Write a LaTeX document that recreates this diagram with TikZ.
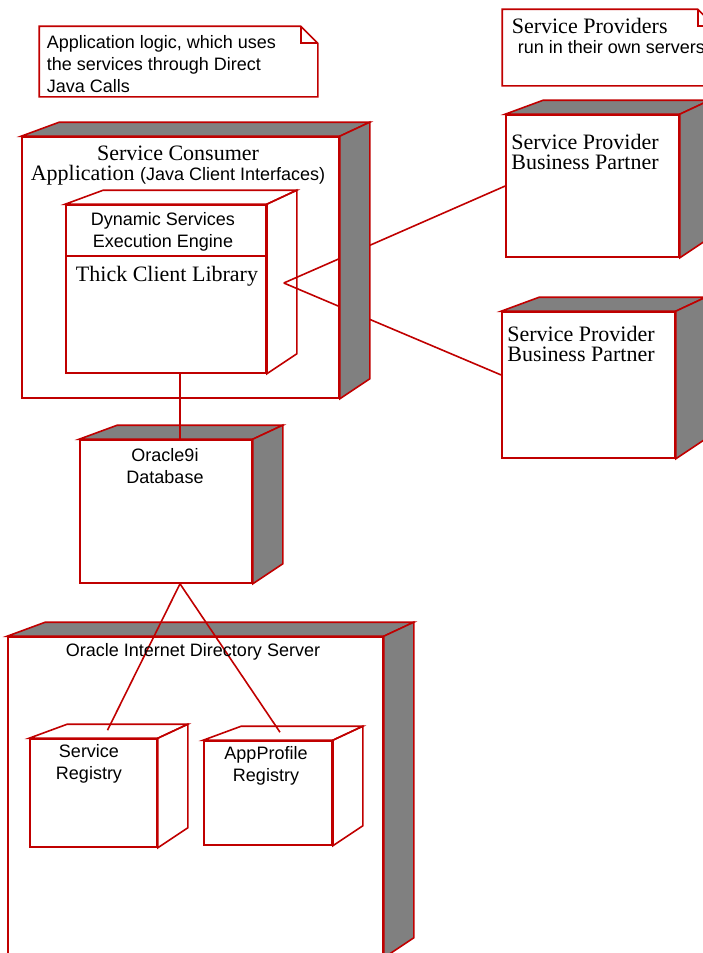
\documentclass[tikz,border=0pt]{standalone}
\usepackage{fontspec}
\setmainfont{Liberation Serif}
\setsansfont{Liberation Sans}

\begin{document}
\begin{tikzpicture}[x=1pt,y=-1pt,line width=1.6pt,
    deploynode/.style={shape=rectangle,draw=uml_red,inner sep=0pt},
    serifcap/.style={font=\rmfamily\fontsize{22}{20}\selectfont,inner sep=0pt,align=center},
    sanscap/.style={font=\sffamily\fontsize{18}{22}\selectfont,inner sep=0pt,align=center}]
    \definecolor{uml_red}{RGB}{192,0,0}
    \definecolor{uml_gray}{RGB}{128,128,128}
    \useasboundingbox (0,0) rectangle (703,953);
    \clip (0,0) rectangle (703,953);
    % notes
    \node[inner sep=0pt,minimum width=277,minimum height=69] (appnote) at (178.5,61.5) {};
    \node[inner sep=0pt,minimum width=211,minimum height=75] (provnote) at (608.5,47.5) {};
    \foreach \n in {appnote,provnote} {
        \draw[uml_red] (\n.north west) -- ([xshift=-17pt]\n.north east) -- ([yshift=-17pt]\n.north east) -- (\n.south east) -- (\n.south west) -- cycle;
        \draw[uml_red] ([xshift=-17pt]\n.north east) |- ([yshift=-17pt]\n.north east);
    }
    % nodes
    \node[deploynode,minimum width=317,minimum height=261] (consumer) at (180.5,267.5) {};
    \node[deploynode,minimum width=200,minimum height=168] (inner) at (166,289) {};
    \node[deploynode,minimum width=173,minimum height=142] (sp1) at (592.5,186) {};
    \node[deploynode,minimum width=173,minimum height=146] (sp2) at (588.5,385) {};
    \node[deploynode,minimum width=172,minimum height=143] (db) at (166,511.5) {};
    \node[deploynode,minimum width=375,minimum height=320] (oid) at (195.5,797) {};
    \node[deploynode,minimum width=127,minimum height=108] (sreg) at (93.5,793) {};
    \node[deploynode,minimum width=128,minimum height=104] (areg) at (268,793) {};
    \coordinate (libport) at ([shift={(17,-6)}]inner.east);
    \coordinate (sregport) at ([shift={(14,-8)}]sreg.north);
    \coordinate (aregport) at ([shift={(12,-8)}]areg.north);
    % links behind the side faces
    \draw[uml_red] (libport) -- (sp1.west);
    \draw[uml_red] (libport) -- ([yshift=10pt]sp2.west);
    % top and right faces
    \foreach \n/\c in {consumer/uml_gray,inner/none,sp1/uml_gray,sp2/uml_gray,db/uml_gray,oid/uml_gray,sreg/none,areg/none} {
        \path[draw=uml_red,fill=\c] (\n.north west) -- ++(38,-14) -- ([shift={(30,-14)}]\n.north east) -- (\n.north east) -- cycle;
        \path[draw=uml_red,fill=\c] (\n.north east) -- ++(30,-14) -- ([shift={(30,-20)}]\n.south east) -- (\n.south east) -- cycle;
    }
    \draw[uml_red,line width=3pt] (inner.north east) -- (inner.south east);
    \draw[uml_red,line width=3pt] (areg.north east) -- (areg.south east);
    \draw[uml_red] ([yshift=-52pt]inner.north west) -- ([yshift=-52pt]inner.north east);
    % links
    \draw[uml_red] ([xshift=14pt]inner.south) -- ([xshift=14pt]db.north);
    \draw[uml_red] ([xshift=14pt]db.south) -- (sregport);
    \draw[uml_red] ([xshift=14pt]db.south) -- (aregport);
    % texts
    \node[sanscap,anchor=north west,align=left] (appnotetext) at (46,35) {Application logic, which uses\\the services through Direct\\Java Calls};
    \node[serifcap,anchor=north west,align=left] (provnotetitle) at (511,17) {Service Providers};
    \node[sanscap,anchor=base west] (provnotetext) at (517,53) {run in their own servers};
    \node[serifcap,anchor=north] (consumertext) at (178,145) {Service Consumer\\Application {\sffamily\fontsize{18}{20}\selectfont (Java Client Interfaces)}};
    \node[sanscap,anchor=north] (enginetext) at (163,212) {Dynamic Services\\Execution Engine};
    \node[serifcap,anchor=north] (libtext) at (167,265) {Thick Client Library};
    \node[serifcap,anchor=north] (sp1text) at (585,133) {Service Provider\\Business Partner};
    \node[serifcap,anchor=north] (sp2text) at (581,325) {Service Provider\\Business Partner};
    \node[sanscap,anchor=north] (dbtext) at (165,448) {Oracle9i\\Database};
    \node[sanscap,anchor=north] (oidtext) at (193,643) {Oracle Internet Directory Server};
    \node[sanscap,anchor=north] (sregtext) at (89,744) {Service\\Registry};
    \node[sanscap,anchor=north] (aregtext) at (266,746) {AppProfile\\Registry};
\end{tikzpicture}
\end{document}
